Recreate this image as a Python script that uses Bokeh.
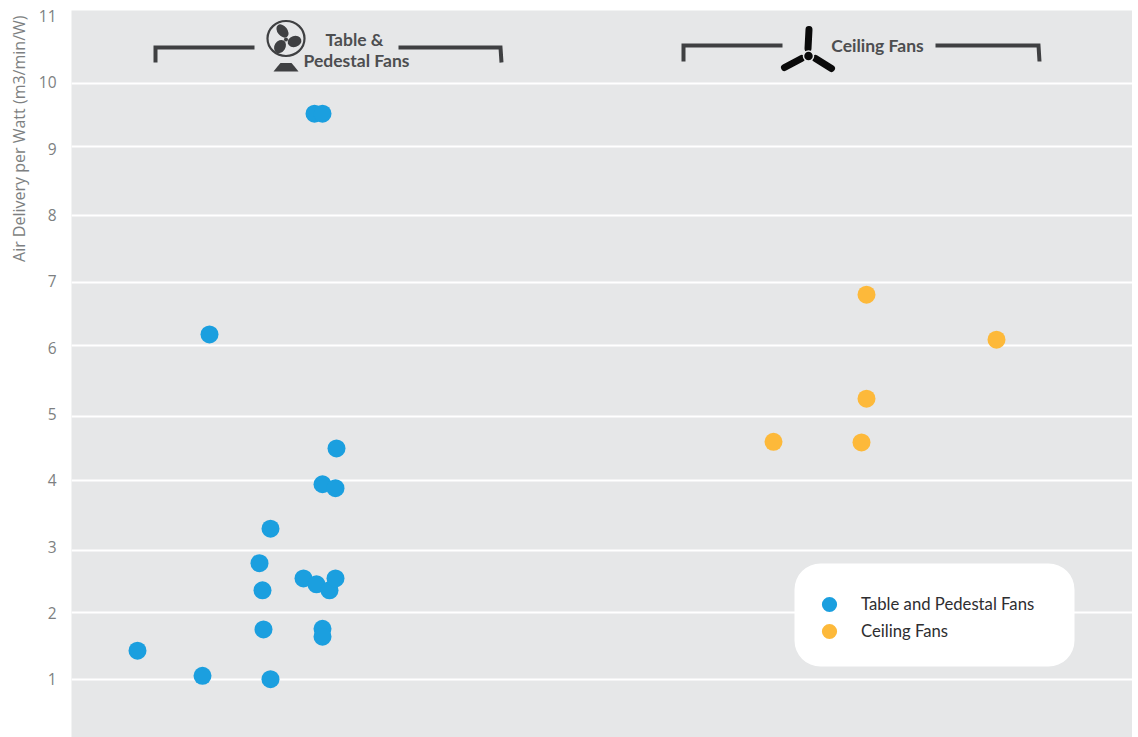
from bokeh.plotting import figure
from bokeh.embed import file_html
from bokeh.resources import INLINE
from bokeh.models import (Range1d, FixedTicker, Title, BoxAnnotation, Legend, LegendItem)
from bokeh.core.properties import value

# ---- data ----
table_x = [314, 322, 209, 336, 322, 335, 270, 259, 262, 303, 316, 329, 335, 263, 322, 322, 137, 202, 270]
table_y = [9.53, 9.53, 6.20, 4.48, 3.94, 3.88, 3.27, 2.75, 2.34, 2.52, 2.43, 2.34, 2.52, 1.75, 1.76, 1.64, 1.43, 1.05, 1.00]
ceiling_x = [866, 996, 866, 773, 861]
ceiling_y = [6.80, 6.12, 5.23, 4.58, 4.57]
y_ticks = [1, 2, 3, 4, 5, 6, 7, 8, 9, 10, 11]
grid_levels = [1.00, 2.00, 2.94, 4.00, 4.96, 6.03, 6.99, 7.99, 9.03, 9.98]
y_title = "Air Delivery per Watt (m3/min/W)"
table_name = "Table and Pedestal Fans"
ceiling_name = "Ceiling Fans"

# ---- styles ----
BG = "#e6e7e8"
BLUE = "#1b9fdf"
ORANGE = "#fdb93a"
DARK = "#3f4042"
TICK = "#7d7f81"
FONT = "Lato"

W, H = 1132, 737
p = figure(width=W, height=H, output_backend="svg", toolbar_location=None,
           x_range=Range1d(71, 1132), y_range=Range1d(0.12, 11.086),
           min_border_left=71, min_border_right=0, min_border_top=10, min_border_bottom=0,
           background_fill_color=BG, border_fill_color="white", outline_line_color=None)
p.extra_y_ranges = {"px": Range1d(737, 10)}

p.xaxis.visible = False
p.xgrid.visible = False
p.ygrid.visible = False
ax = p.yaxis[0]
ax.ticker = FixedTicker(ticks=y_ticks)
ax.axis_line_color = None
ax.major_tick_line_color = None
ax.minor_tick_line_color = None
ax.major_label_text_font = "Open Sans"
ax.major_label_text_font_size = "15.5px"
ax.major_label_text_color = TICK
ax.major_label_standoff = 9

p.hspan(y=grid_levels, line_color="white", line_width=2)

# axis title
p.add_layout(Title(text=y_title, align="right", offset=5, standoff=11,
                   text_font="Open Sans", text_font_style="normal",
                   text_font_size="16px", text_color=TICK), "left")

# data
p.scatter(table_x, table_y, size=18, color=BLUE, line_color=None)
p.scatter(ceiling_x, ceiling_y, size=18, color=ORANGE, line_color=None)

# brackets
px = dict(y_range_name="px")
p.multi_line(xs=[[155, 155, 254], [398, 500, 501], [683, 683, 782], [935, 1038, 1039]],
             ys=[[62, 47, 47], [47, 47, 62], [61, 45, 45], [45, 45, 61]],
             line_color=DARK, line_width=4, line_join="miter", **px)

# table fan icon
p.ellipse(x=[285.5], y=[38], width=[37], height=[35], fill_color=None, line_color=DARK, line_width=2.2, **px)
p.ellipse(x=[282, 294, 279.5], y=[30.5, 41, 46], width=[15, 14, 14], height=[10, 11, 11],
          angle=[-0.9, 0.3, 1.0], fill_color=DARK, line_color=None, **px)
p.circle(x=[285.5], y=[39], radius=2, fill_color=DARK, line_color=None, **px)
p.patch(x=[273, 277, 280, 291, 294, 298], y=[71, 66, 62.5, 62.5, 66, 71], fill_color=DARK, line_color=None, **px)

# ceiling fan icon
p.multi_line(xs=[[808.5, 807.5], [784, 801], [831, 815]], ys=[[29, 48], [67, 58], [68, 58]],
             line_color="#0a0a0a", line_width=7, line_cap="round", **px)
p.circle(x=[808], y=[55.5], radius=5, fill_color="#0a0a0a", line_color=BG, line_width=1.5, **px)

# heading texts
p.text(x=[354, 356, 877], y=[39, 60, 45], text=["Table &", "Pedestal Fans", "Ceiling Fans"],
       text_font=value(FONT), text_font_style="bold", text_font_size="17.5px", text_color="#4d4e50",
       text_align="center", text_baseline="middle", **px)

# legend panel
p.add_layout(BoxAnnotation(left=794, right=1074, top=563, bottom=666, y_range_name="px",
                           fill_color="white", fill_alpha=1, line_color=None, border_radius=26))
nan = float("nan")
l1 = p.scatter([nan], [nan], size=15, color=BLUE, line_color=None)
l2 = p.scatter([nan], [nan], size=15, color=ORANGE, line_color=None)
legend_style = dict(background_fill_alpha=0, border_line_alpha=0,
                    label_text_font=FONT, label_text_font_size="16.7px", label_text_color="#2e2e30",
                    glyph_width=38, glyph_height=38, label_standoff=13, margin=0, padding=0)
p.add_layout(Legend(items=[LegendItem(label=table_name, renderers=[l1])], location=(739, 114), **legend_style))
p.add_layout(Legend(items=[LegendItem(label=ceiling_name, renderers=[l2])], location=(739, 87), **legend_style))

open("out.html", "w").write(file_html(p, INLINE))
